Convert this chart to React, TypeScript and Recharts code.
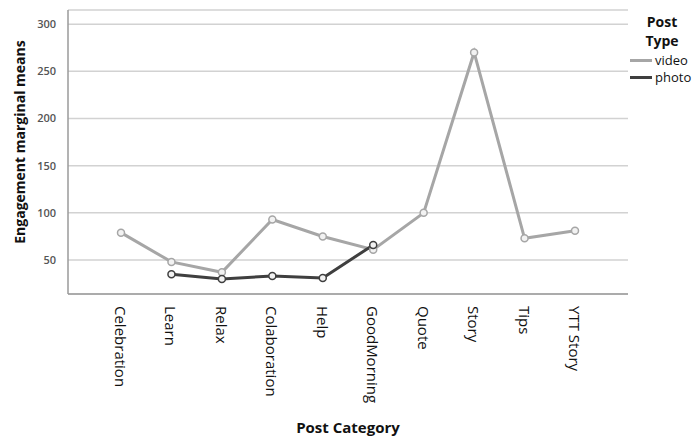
import React from "react";
import { LineChart, Line, XAxis, YAxis, CartesianGrid, Label } from "recharts";

const categories = ["Celebration", "Learn", "Relax", "Colaboration", "Help", "GoodMorning", "Quote", "Story", "Tips", "YTT Story"];
const videoValues = [79, 48, 37, 93, 75, 61, 100, 270, 73, 81];
const photoValues: (number | null)[] = [null, 35, 30, 33, 31, 66, null, null, null, null];
const yTicks = [50, 100, 150, 200, 250, 300];
const seriesNames = ["video", "photo"];
const seriesColors = ["#a6a6a6", "#3f3f3f"];

const data = categories.map((c, i) => ({ category: c, video: videoValues[i], photo: photoValues[i] }));

const XTick = (props: any) => {
  const { x, y, payload } = props;
  return (
    <g transform={`translate(${x},${y + 4})`}>
      <text transform="rotate(90)" textAnchor="start" dominantBaseline="central" fontSize={15} fill="#111" fontFamily="'Open Sans', sans-serif">
        {payload.value}
      </text>
    </g>
  );
};

const Dot = (color: string) => (props: any) => {
  const { cx, cy, value, index } = props;
  if (value === null || value === undefined || cx == null || cy == null) return <g key={index} />;
  return <circle key={index} cx={cx} cy={cy} r={3.5} fill="#f2f2f2" stroke={color} strokeWidth={1.5} />;
};

export default function App() {
  return (
    <div style={{ position: "relative", width: 694, height: 436, background: "#fff" }}>
      <style>{"body{margin:0}"}</style>
      <LineChart width={694} height={436} data={data} margin={{ top: 10, right: 66, bottom: 0, left: 0 }}>
        <CartesianGrid horizontal={true} vertical={false} stroke="#d2d2d2" strokeWidth={1.5} />
        <XAxis
          dataKey="category"
          padding={{ left: 53, right: 53 }}
          tick={<XTick />}
          tickLine={false}
          axisLine={{ stroke: "#9a9a9a", strokeWidth: 1.5 }}
          interval={0}
          height={142}
        >
          <Label value="Post Category" position="insideBottom" offset={0} dy={-3} style={{ fontSize: 15, fontWeight: 700, fill: "#111", fontFamily: "'Open Sans', sans-serif" }} />
        </XAxis>
        <YAxis
          width={68}
          domain={[14, 315]}
          ticks={yTicks}
          tickLine={false}
          axisLine={{ stroke: "#9a9a9a", strokeWidth: 1.5 }}
          tick={{ fontSize: 11, fill: "#555", fontWeight: 600, fontFamily: "'Open Sans', sans-serif" }}
          tickMargin={6}
        >
          <Label value="Engagement marginal means" angle={-90} position="insideLeft" offset={20} dy={-10} style={{ textAnchor: "middle", fontSize: 14, fontWeight: 700, fill: "#111", fontFamily: "'Open Sans', sans-serif" }} />
        </YAxis>
        <Line dataKey="video" stroke={seriesColors[0]} strokeWidth={3} isAnimationActive={false} dot={Dot(seriesColors[0])} activeDot={false} />
        <Line dataKey="photo" stroke={seriesColors[1]} strokeWidth={3} isAnimationActive={false} dot={Dot(seriesColors[1])} activeDot={false} />
      </LineChart>
      <div style={{ position: "absolute", left: 630, top: 12, width: 64, fontFamily: "'Open Sans', sans-serif", color: "#111" }}>
        <div style={{ fontWeight: 700, fontSize: 14, lineHeight: "19px", textAlign: "center", width: 64 }}>Post</div>
        <div style={{ fontWeight: 700, fontSize: 14, lineHeight: "19px", textAlign: "center", width: 64 }}>Type</div>
        {seriesNames.map((n, i) => (
          <div key={n} style={{ display: "flex", alignItems: "center", fontSize: 13, lineHeight: "17px", marginTop: i === 0 ? 2 : 0 }}>
            <span style={{ display: "inline-block", width: 22, height: 3, background: seriesColors[i], marginRight: 3 }} />
            <span>{n}</span>
          </div>
        ))}
      </div>
    </div>
  );
}
